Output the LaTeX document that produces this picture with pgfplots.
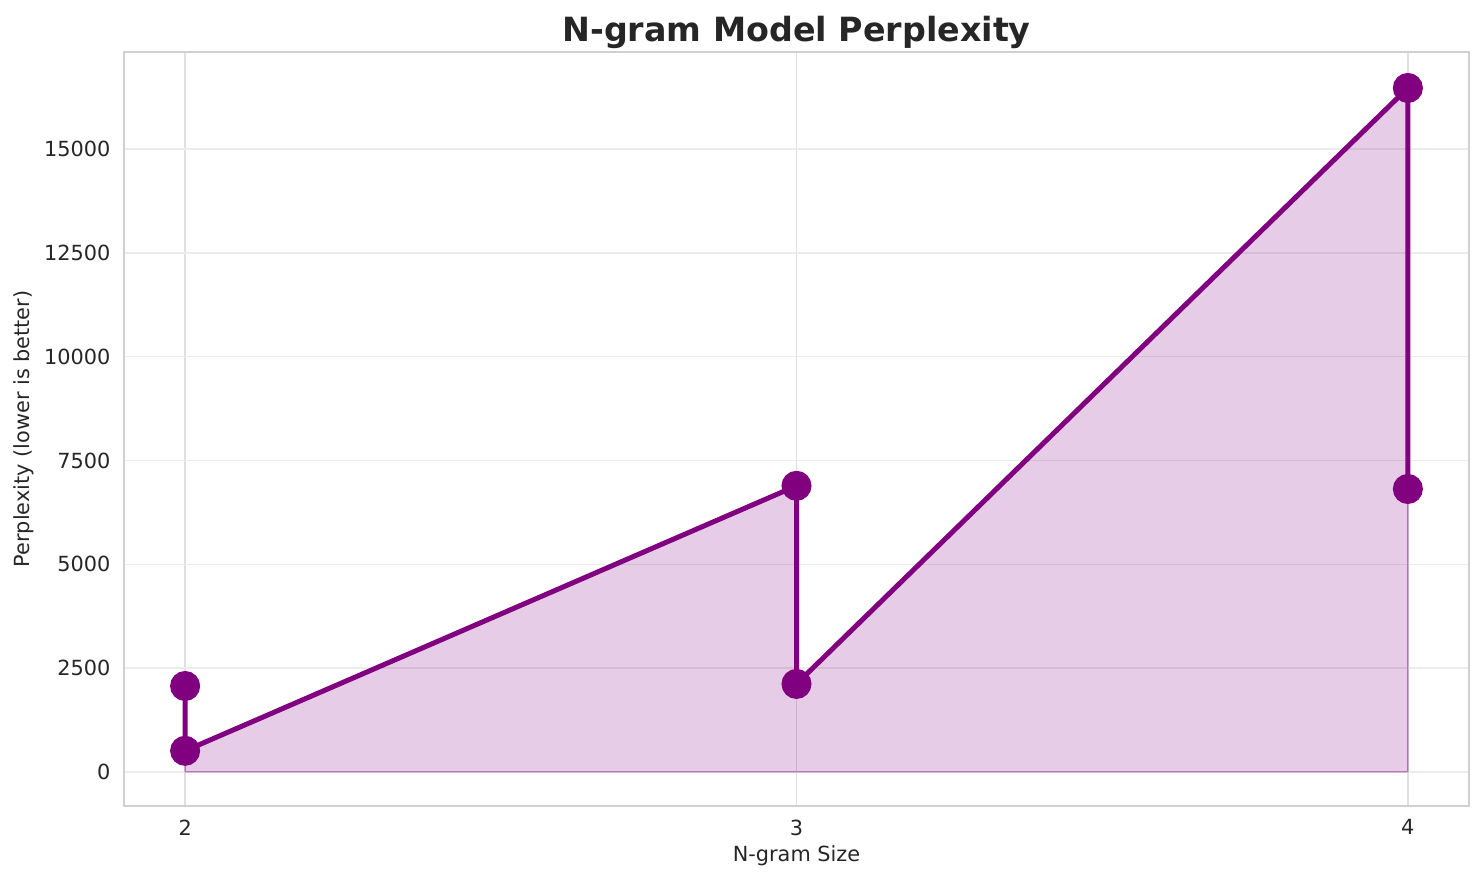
\documentclass[border=0pt]{standalone}
\usepackage{pgfplots}
\pgfplotsset{compat=1.18}
\usepackage{fontspec}
\setmainfont{DejaVu Sans}

\definecolor{lineclr}{RGB}{128,0,128}
\definecolor{spineclr}{RGB}{208,208,208}
\definecolor{xgridclr}{RGB}{224,224,224}
\definecolor{ygridclr}{RGB}{236,236,236}
\definecolor{txtclr}{RGB}{38,38,38}

\begin{document}
\begin{tikzpicture}
\useasboundingbox (-59.52pt,-37.92pt) rectangle (652.8pt,386.88pt);
\begin{axis}[
    at={(0,0)}, anchor=south west,
    width=645.6pt, height=361.9pt, scale only axis,
    xmin=1.9, xmax=4.1, ymin=-819, ymax=17335,
    xtick={2,3,4}, ytick={0,2500,5000,7500,10000,12500,15000},
    scaled y ticks=false,
    /pgf/number format/assume math mode=true,
    /pgf/number format/1000 sep={},
    tick style={draw=none},
    axis line style={draw=spineclr, line width=0.6pt},
    ticklabel style={font=\fontsize{10}{12}\selectfont, text=txtclr},
    xticklabel style={yshift=-3pt},
    yticklabel style={xshift=-3pt},
    xmajorgrids, ymajorgrids,
    x grid style={draw=xgridclr, line width=0.7pt},
    y grid style={draw=ygridclr, line width=0.7pt},
    xlabel={N-gram Size},
    ylabel={Perplexity (lower is better)},
    label style={font=\fontsize{10}{12}\selectfont, text=txtclr},
    xlabel style={yshift=2pt},
    ylabel style={yshift=-2pt},
    title={N-gram Model Perplexity},
    title style={font=\bfseries\fontsize{16}{19}\selectfont, text=txtclr, yshift=-8pt},
    clip=false,
]
\addplot[fill=lineclr, fill opacity=0.2, draw=lineclr, draw opacity=0.35, line width=0.7pt]
    coordinates {
        (2,2070) (2,510) (3,6890) (3,2120) (4,16470) (4,6815)
    } -- (axis cs:4,0) -- (axis cs:2,0) -- cycle;
\addplot[draw=lineclr, line width=2.4pt, mark=*, mark size=6pt,
    mark options={fill=lineclr, draw=none}]
    coordinates {
        (2,2070) (2,510) (3,6890) (3,2120) (4,16470) (4,6815)
    };
\end{axis}
\end{tikzpicture}
\end{document}
